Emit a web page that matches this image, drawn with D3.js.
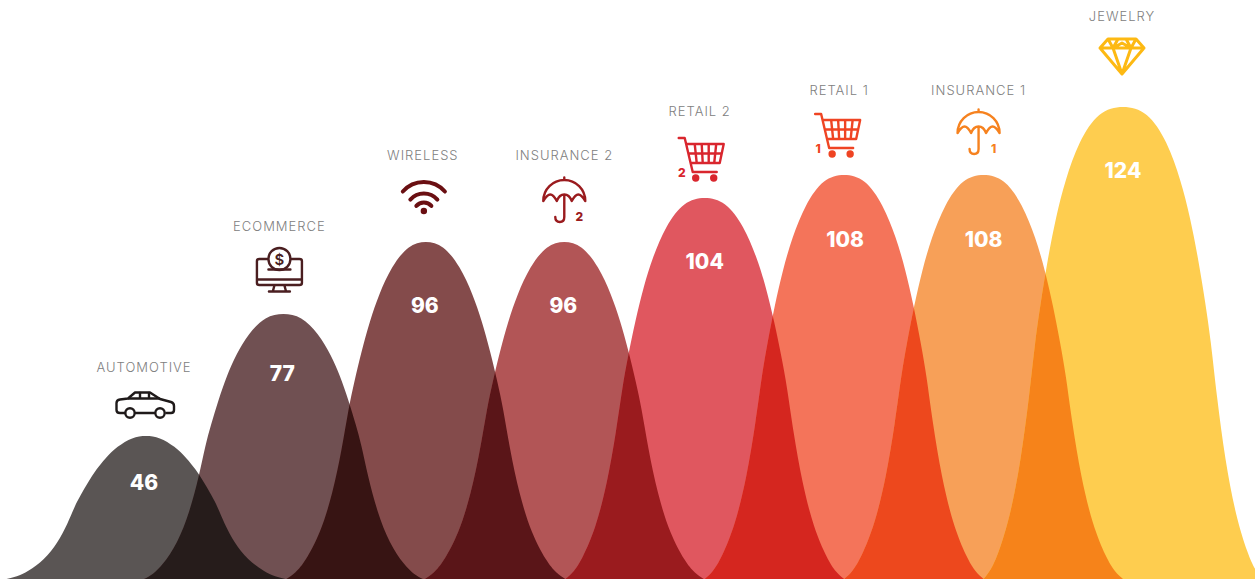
<!DOCTYPE html>
<html>
<head>
<meta charset="utf-8">
<script src="https://cdn.jsdelivr.net/npm/d3@7"></script>
<style>
html,body{margin:0;padding:0;background:#fff;overflow:hidden}
svg{display:block}
</style>
</head>
<body>
<svg id="chart" width="1255" height="579"></svg>
<script>
// Categories and values, left to right
const categories = ["AUTOMOTIVE","ECOMMERCE","WIRELESS","INSURANCE 2","RETAIL 2","RETAIL 1","INSURANCE 1","JEWELRY"];
const values = [46,77,96,96,104,108,108,124];
const icons = ["car","monitor","wifi","umbrella","cart","cart","umbrella","diamond"];
const badges = ["","","","2","2","1","1",""];
const fills = ["#5a5554","#705052","#844b4b","#b25556","#e0575f","#f4745a","#f7a058","#fecd4f"];
const overlaps = ["#261c1b","#371413","#5a1518","#9a1b1e","#d5261f","#ed481d","#f6831a"];
const iconColors = ["#1f1a1a","#4a1e20","#6a0f12","#9a1b1e","#d9262e","#ef4423","#f6821f","#fdb913"];

// The value axis is not straight: the humps are stepped by rank
const valueStops = [46,77,96,104,108,124];
const topStops = [436,314,242,198,175,107];

// Half of a hump outline: offset from centre (in steps), share of the peak height.
// It is mirrored for the left side and pinched per hump so shorter humps read slimmer.
const halfOutline = [[0,1],[.17,.983],[.31,.924],[.41,.845],[.48,.765],[.54,.675],[.59,.585],[.63,.5],[.675,.385],[.735,.255],[.81,.14],[.89,.06],[.95,.02],[1,0]];
const pinch = [.5,.3,.32,.32,.17,.17,.17,0];
const peakShift = [-1,-3,0,-1,0,0,0,0];

const W = 1255, H = 579;
const x = d3.scalePoint().domain(categories).range([147,1123]);
const y = d3.scaleLinear().domain(valueStops).range(topStops);
const step = x.step();
const base = H;

const svg = d3.select("#chart");
const defs = svg.append("defs");

const outline = [...halfOutline.slice(1).reverse().map(p=>[-p[0],p[1]]), ...halfOutline];

const humpPath = (c,v,i) => d3.line()
  .x(p => x(c) + peakShift[i] + p[0]*(1-pinch[i]*(1-Math.abs(p[0])))*step)
  .y(p => base - p[1]*(base - y(v)))
  .curve(d3.curveNatural)(outline);

const humps = categories.map((c,i)=>({c, v:values[i], i, d:humpPath(c,values[i],i)}));

// Clip for each hump so that neighbour overlaps can be painted exactly
defs.selectAll("clipPath").data(humps).join("clipPath")
  .attr("id",d=>"hump"+d.i).append("path").attr("d",d=>d.d);

svg.append("g").selectAll("path").data(humps).join("path")
  .attr("d",d=>d.d).attr("fill",d=>fills[d.i]);

svg.append("g").selectAll("path").data(humps.slice(1)).join("path")
  .attr("d",d=>d.d)
  .attr("clip-path",d=>`url(#hump${d.i-1})`)
  .attr("fill",d=>overlaps[d.i-1]);

// Vertical distance between hump top and its texts
const valueDrop = [46,59,63,63,63,64,64,63];
const valueShift = [-3,-4,-1,-2,0,1,0,0];
const labelRise = [69,88,87,87,87,85,85,91];
const iconRise = [31,44,45,41,41,42,42,51];
const labelShift = [-3,-7,-3,-1,-5,-5,-5,-1];
const iconShift = [-2,-7,-2,-1,-3,-6,-5,-1];

svg.append("g").selectAll("text").data(humps).join("text")
  .attr("x",d=>x(d.c)+labelShift[d.i])
  .attr("y",d=>y(d.v)-labelRise[d.i])
  .attr("text-anchor","middle").attr("dominant-baseline","central")
  .attr("font-family","Inter, Lato, sans-serif").attr("font-weight",300)
  .attr("font-size",13).attr("letter-spacing",1).attr("fill","#808080")
  .text(d=>d.c);

svg.append("g").selectAll("text").data(humps).join("text")
  .attr("x",d=>x(d.c)+valueShift[d.i])
  .attr("y",d=>y(d.v)+valueDrop[d.i])
  .attr("text-anchor","middle").attr("dominant-baseline","central")
  .attr("font-family","Inter, Lato, sans-serif").attr("font-weight",800)
  .attr("font-size",21).attr("fill","#fff")
  .text(d=>d.v);

// Line icons, drawn around their own centre
const iconDraw = {
  car(g){
    g.append("path").attr("d","M-20,8H-25Q-28.500,8 -28.500,5V-2Q-28.500,-5 -25,-5.500L-17,-6.500L-10,-12.500H5L15,-6L26,-3Q29,-2 29,1V5Q29,8 26,8H21.500M9,8H-9");
    g.append("path").attr("d","M-16,-6.500H14M-5,-12V-6.500M4,-12V-6.500");
    g.append("circle").attr("cx",-15).attr("cy",8).attr("r",4.700);
    g.append("circle").attr("cx",15).attr("cy",8).attr("r",4.700);
  },
  monitor(g){
    g.append("path").attr("d","M-12,-11H-20Q-22.500,-11 -22.500,-9V13Q-22.500,15 -20,15H20Q22.500,15 22.500,13V-9Q22.500,-11 20,-11H12M-22.500,9.500H22.500M-11,-0.500H11M-5,15.500L-6.500,21M5,15.500L6.500,21M-10.500,21.500H10.500");
    g.append("circle").attr("cx",0).attr("cy",-11).attr("r",11);
    g.append("text").attr("y",-10.500).attr("text-anchor","middle").attr("dominant-baseline","central")
      .attr("font-family","Inter, sans-serif").attr("font-weight",600).attr("font-size",15)
      .attr("stroke","none").attr("fill","currentColor").text("$");
  },
  wifi(g){
    g.selectAll("path").data([[28,13],[18,14.500],[10,15.500]]).join("path")
      .attr("d",r=>d3.arc()({innerRadius:r[0],outerRadius:r[0],startAngle:-.85,endAngle:.85}).split("L")[0])
      .attr("transform",r=>`translate(0,${r[1]})`).attr("stroke-width",4);
    g.append("circle").attr("cy",14).attr("r",3.200).attr("stroke","none").attr("fill","currentColor");
  },
  umbrella(g){
    g.append("path").attr("d","M-21,0A21,21 0 0 1 21,0M-21,0Q-17,-6.500 -14,-6.500T-7.500,0M-7.500,0Q-5,-6.500 0,-6.500T7.500,0M7.500,0Q11,-6.500 14,-6.500T21,0M0,-21V-23.500M0,-6V16Q0,21 -4.500,21Q-9,21 -9,16");
  },
  cart(g){
    g.append("path").attr("d","M-23,-19H-17L-9,15H15M-15.500,-13H22L18,6H-11M-13,-3.500H20M-7,-13L-5,6M0,-13L1,6M7,-13V6M14.500,-13L12.500,6");
    g.append("circle").attr("cx",-6).attr("cy",21).attr("r",2.500).attr("fill","currentColor");
    g.append("circle").attr("cx",12).attr("cy",21).attr("r",2.500).attr("fill","currentColor");
  },
  diamond(g){
    g.append("path").attr("d","M-14,-17H14L22,-8L0,18L-22,-8ZM-22,-8H22M-14,-17L-9,-8L0,18L9,-8L14,-17M-9,-8L-4,-17M9,-8L4,-17M-9,-8L0,-13L9,-8").attr("stroke-width",3);
  }
};
const badgeOffset = {umbrella:[15,15],cart:[-20,15]};

const iconGroups = svg.append("g").selectAll("g").data(humps).join("g")
  .attr("transform",d=>`translate(${x(d.c)+iconShift[d.i]},${y(d.v)-iconRise[d.i]})`)
  .style("color",d=>iconColors[d.i]);
iconGroups.each(function(d){
  const g = d3.select(this).append("g").attr("fill","none").attr("stroke","currentColor")
    .attr("stroke-width",2.4).attr("stroke-linejoin","round").attr("stroke-linecap","round");
  iconDraw[icons[d.i]](g);
  if(badges[d.i]){
    const o = badgeOffset[icons[d.i]];
    d3.select(this).append("text").attr("x",o[0]).attr("y",o[1])
      .attr("text-anchor","middle").attr("dominant-baseline","central")
      .attr("font-family","Inter, sans-serif").attr("font-weight",800).attr("font-size",12)
      .attr("fill","currentColor").text(badges[d.i]);
  }
});
</script>
</body>
</html>
